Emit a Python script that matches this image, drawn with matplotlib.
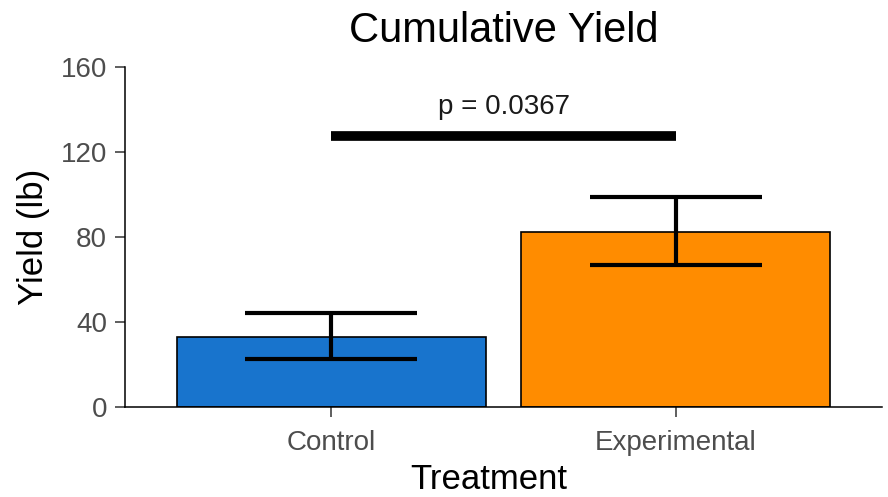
"""Bar chart of cumulative yield by treatment, with SE bars and a p-value bracket."""
import matplotlib
matplotlib.use("Agg")
import matplotlib.pyplot as plt
import numpy as np

plt.rcParams["font.family"] = ["Liberation Sans", "DejaVu Sans"]

treatments = ["Control", "Experimental"]
mean_yield = [33.0, 82.3]
err_low = [22.3, 66.7]
err_high = [44.0, 99.0]
bar_colors = ["#1874CD", "#FF8C00"]
y_ticks = [0, 40, 80, 120, 160]
p_label = "p = 0.0367"
sig_y = 127.6
p_text_y = 141.5

fig = plt.figure(figsize=(8.88, 4.97), dpi=100)
ax = fig.add_axes([125 / 888, 1 - 406.7 / 497, 757 / 888, 339.4 / 497])

x = np.arange(len(treatments))
ax.bar(x, mean_yield, width=0.9, color=bar_colors, edgecolor="black",
       linewidth=1.2, zorder=2)

# error bars: vertical stem + caps spanning half a category
ax.vlines(x, err_low, err_high, color="black", linewidth=3, zorder=3)
ax.hlines(err_low, x - 0.25, x + 0.25, color="black", linewidth=3, zorder=3)
ax.hlines(err_high, x - 0.25, x + 0.25, color="black", linewidth=3, zorder=3)

# significance bar
ax.plot([x[0], x[1]], [sig_y, sig_y], color="black", linewidth=7,
        solid_capstyle="butt", zorder=3)
ax.text((x[0] + x[1]) / 2, p_text_y, p_label, ha="center", va="center",
        fontsize=20, color="#1a1a1a")

ax.set_xlim(-0.6, 1.6)
ax.set_ylim(0, 160)
ax.set_xticks(x)
ax.set_xticklabels(treatments)
ax.set_yticks(y_ticks)

for side in ("top", "right"):
    ax.spines[side].set_visible(False)
for side in ("left", "bottom"):
    ax.spines[side].set_linewidth(1.1)
    ax.spines[side].set_color("black")

ax.tick_params(axis="both", length=7, width=1.1, color="#333333",
               labelsize=20, labelcolor="#4D4D4D")
ax.tick_params(axis="x", pad=10)
ax.tick_params(axis="y", pad=6)

ax.set_title("Cumulative Yield", fontsize=30, pad=18)
ax.set_xlabel("Treatment", fontsize=25)
ax.set_ylabel("Yield (lb)", fontsize=25)
ax.xaxis.set_label_coords(0.48, -0.165)
ax.yaxis.set_label_coords(-0.099, 0.5)

fig.savefig("out.png", dpi=100)
